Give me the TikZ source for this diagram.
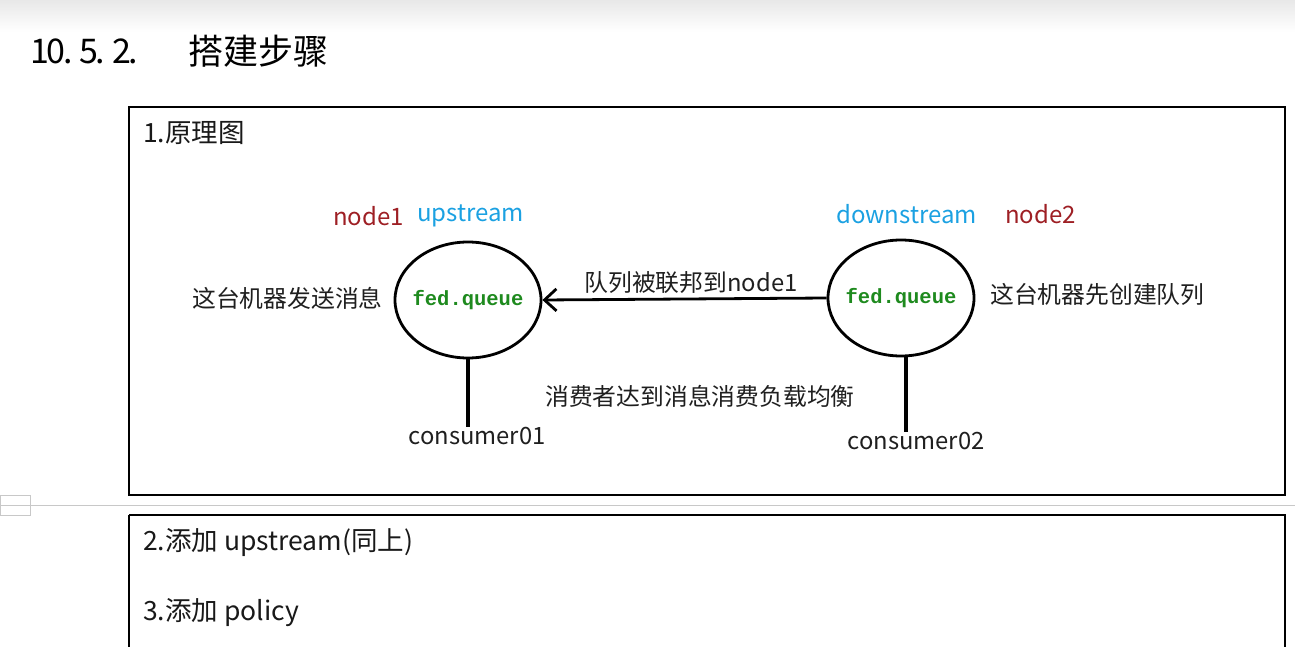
\documentclass[tikz,border=0pt]{standalone}
\usepackage{fontspec}
\setmainfont{Noto Sans CJK SC}
\newfontfamily\cjk{Noto Sans CJK SC}
\newfontfamily\monob{Liberation Mono}
\usetikzlibrary{arrows.meta,shapes.geometric}
\definecolor{nodered}{HTML}{9E1F24}
\definecolor{streamblue}{HTML}{1BA1E2}
\definecolor{qgreen}{HTML}{1E8A1E}
\definecolor{topgray}{HTML}{E8E8E8}
\definecolor{rulegray}{HTML}{C8C8C8}
\newcommand{\mch}[1]{\makebox[16.4pt][l]{#1}}
\tikzset{
  frame/.style={draw=black, line width=1.1pt},
  queue/.style={draw=black, line width=2.8pt, ellipse, minimum width=146pt, minimum height=116pt, inner sep=-6pt,
    font=\monob\bfseries\fontsize{20.5}{20.5}\selectfont, text=qgreen},
  lbl/.style={inner sep=0pt, font=\cjk\fontsize{23.8}{26}\selectfont, text=black!88},
  cnl/.style={inner sep=0pt, font=\cjk\fontsize{26.5}{29}\selectfont, text=black!90},
  rednode/.style={inner sep=0pt, font=\cjk\fontsize{24}{26}\selectfont, text=nodered},
  bluenode/.style={inner sep=0pt, font=\cjk\fontsize{24}{26}\selectfont, text=streamblue},
  link/.style={line width=2.8pt, draw=black},
  stem/.style={line width=3.4pt, draw=black},
}
\begin{document}
\begin{tikzpicture}[x=1pt,y=-1pt]
\useasboundingbox (0,0) rectangle (1295,647);
\fill[white] (0,0) rectangle (1295,647);
\shade[top color=topgray, bottom color=white] (0,0) rectangle (1295,32);
% title
\node[inner sep=0pt, anchor=west, font=\cjk\fontsize{34}{36}\selectfont] (num) at (30,51) {\mch{1}\mch{0}\mch{.}\mch{5}\mch{.}\mch{2}\mch{.}};
\node[inner sep=0pt, anchor=west, font=\cjk\fontsize{35}{37}\selectfont] (title) at (188,51) {搭建步骤};
% page rule
\draw[rulegray, line width=1pt] (0,505) -- (1295,505);
\draw[rulegray, line width=0.8pt] (0,495) rectangle (30,515);
% boxes
\draw[frame] (129,107) rectangle (1285,495);
\draw[frame] (129,515) -- (129,660) (129,515) -- (1285,515) -- (1285,660);
\node[cnl, anchor=west] (s1) at (143,133) {1.原理图};
\node[cnl, anchor=west] (s2) at (143,543) {2.添加 upstream(同上)};
\node[cnl, anchor=west] (s3) at (143,613) {3.添加 policy};
% queues
\node[queue] (q1) at (468,300) {fed.queue};
\node[queue] (q2) at (901,298) {fed.queue};
% headers
\node[rednode, anchor=west] (n1) at (333,216) {node1};
\node[bluenode, anchor=west] (up) at (417,216) {upstream};
\node[bluenode, anchor=west] (down) at (836,214) {downstream};
\node[rednode, anchor=west] (n2) at (1005,214) {node2};
% side labels
\node[lbl, anchor=west] (l1) at (192,298) {这台机器发送消息};
\node[lbl, anchor=west] (l2) at (990,294) {这台机器先创建队列};
\node[lbl, anchor=west] (l3) at (545,396) {消费者达到消息消费负载均衡};
% federation arrow
\draw[link, -{Straight Barb[length=12pt, width=22pt, line width=2.8pt]}] (q2.west) -- (q1.east);
\node[lbl] (fl) at (691,283) {队列被联邦到node1};
% consumers
\node[lbl, anchor=north] (c1) at (477,427) {consumer01};
\node[lbl, anchor=north] (c2) at (916,432) {consumer02};
\draw[stem] (q1.south) -- (q1.south |- c1.north);
\draw[stem] ([xshift=5pt]q2.south) -- ([xshift=5pt]q2.south |- c2.north);
\end{tikzpicture}
\end{document}
